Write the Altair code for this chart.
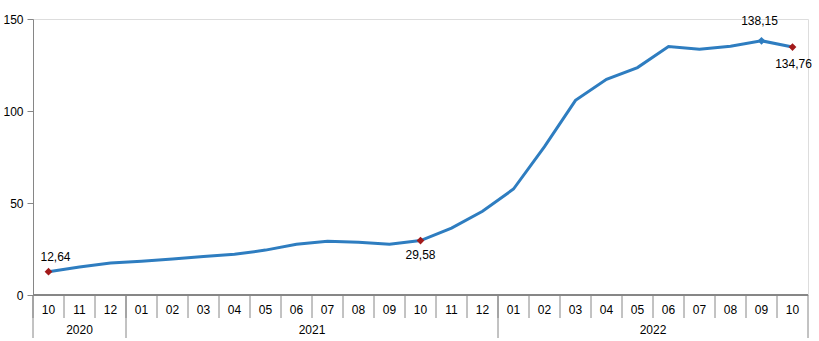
import altair as alt
import pandas as pd

months = ["10", "11", "12", "01", "02", "03", "04", "05", "06", "07", "08", "09",
          "10", "11", "12", "01", "02", "03", "04", "05", "06", "07", "08", "09", "10"]
values = [12.64, 15.2, 17.4, 18.4, 19.5, 20.9, 22.1, 24.4, 27.6, 29.2, 28.7, 27.6,
          29.58, 36.4, 45.5, 57.6, 80.6, 105.8, 117.2, 123.6, 135.0, 133.5, 135.2, 138.15, 134.76]
years = ["2020", "2021", "2022"]
year_start = [0, 3, 15]
year_end = [2, 14, 24]
labeled_idx = [0, 12, 23, 24]
label_text = ["12,64", "29,58", "138,15", "134,76"]
marker_color = ["#A31A1A", "#A31A1A", "#2E7DC0", "#A31A1A"]

W, H = 775, 276
FONT = "Liberation Sans"

df = pd.DataFrame({"i": list(range(len(months))), "month": months, "value": values})
df["sep"] = df["i"] - 0.5

lab = pd.DataFrame({
    "i": labeled_idx,
    "value": [values[k] for k in labeled_idx],
    "text": label_text,
    "color": marker_color,
})

yr = pd.DataFrame({"year": years, "start": year_start, "end": year_end})
yr["mid"] = (yr["start"] + yr["end"]) / 2
yr["left"] = yr["start"] - 0.5
yr_edges = pd.DataFrame({"x": list(yr["left"]) + [year_end[-1] + 0.5]})

xs = alt.Scale(domain=[-0.5, len(months) - 0.5], nice=False, zero=False)
ys = alt.Scale(domain=[0, 150], nice=False)
xq = alt.X("i:Q", scale=xs, axis=None)

line = alt.Chart(df).mark_line(color="#2E7DC0", strokeWidth=3, interpolate="linear").encode(
    x=xq,
    y=alt.Y("value:Q", scale=ys, title=None,
            axis=alt.Axis(values=[0, 50, 100, 150], grid=False, domainColor="#868686",
                          tickColor="#868686", tickSize=6, labelFont=FONT, labelFontSize=12,
                          labelColor="#000000", labelPadding=4)),
)

marks = alt.Chart(lab).mark_point(shape="diamond", filled=True, size=60, opacity=1).encode(
    x=xq, y=alt.Y("value:Q", scale=ys),
    color=alt.Color("color:N", scale=None),
)

offsets = {"12,64": (7, -15), "29,58": (0, 14), "138,15": (-2, -20), "134,76": (1, 17)}
texts = []
for t, (ddx, ddy) in offsets.items():
    texts.append(
        alt.Chart(lab[lab["text"] == t]).mark_text(
            font=FONT, fontSize=12, dx=ddx, dy=ddy, color="#000000", baseline="middle"
        ).encode(x=xq, y=alt.Y("value:Q", scale=ys), text="text:N")
    )

baseline = alt.Chart(df).mark_rule(color="#868686").encode(
    x=alt.value(0), x2=alt.value(W), y=alt.value(H))

month_sep = alt.Chart(df).mark_rule(color="#868686").encode(
    x=alt.X("sep:Q", scale=xs, axis=None), y=alt.value(H), y2=alt.value(H + 23))

year_sep = alt.Chart(yr_edges).mark_rule(color="#868686").encode(
    x=alt.X("x:Q", scale=xs, axis=None), y=alt.value(H), y2=alt.value(H + 43))

month_txt = alt.Chart(df).mark_text(font=FONT, fontSize=12, color="#000000", baseline="middle").encode(
    x=xq, y=alt.value(H + 15), text="month:N")

year_txt = alt.Chart(yr).mark_text(font=FONT, fontSize=12, color="#000000", baseline="middle").encode(
    x=alt.X("mid:Q", scale=xs, axis=None), y=alt.value(H + 35), text="year:N")

chart = alt.layer(baseline, month_sep, year_sep, month_txt, year_txt, line, marks, *texts).properties(
    width=W, height=H,
    autosize=alt.AutoSizeParams(type="none"),
    padding={"left": 33, "top": 19, "right": 11, "bottom": 46},
).configure_view(stroke=None).configure(background="#ffffff")

chart.save("out.html", embed_options={"renderer": "svg", "actions": False})
